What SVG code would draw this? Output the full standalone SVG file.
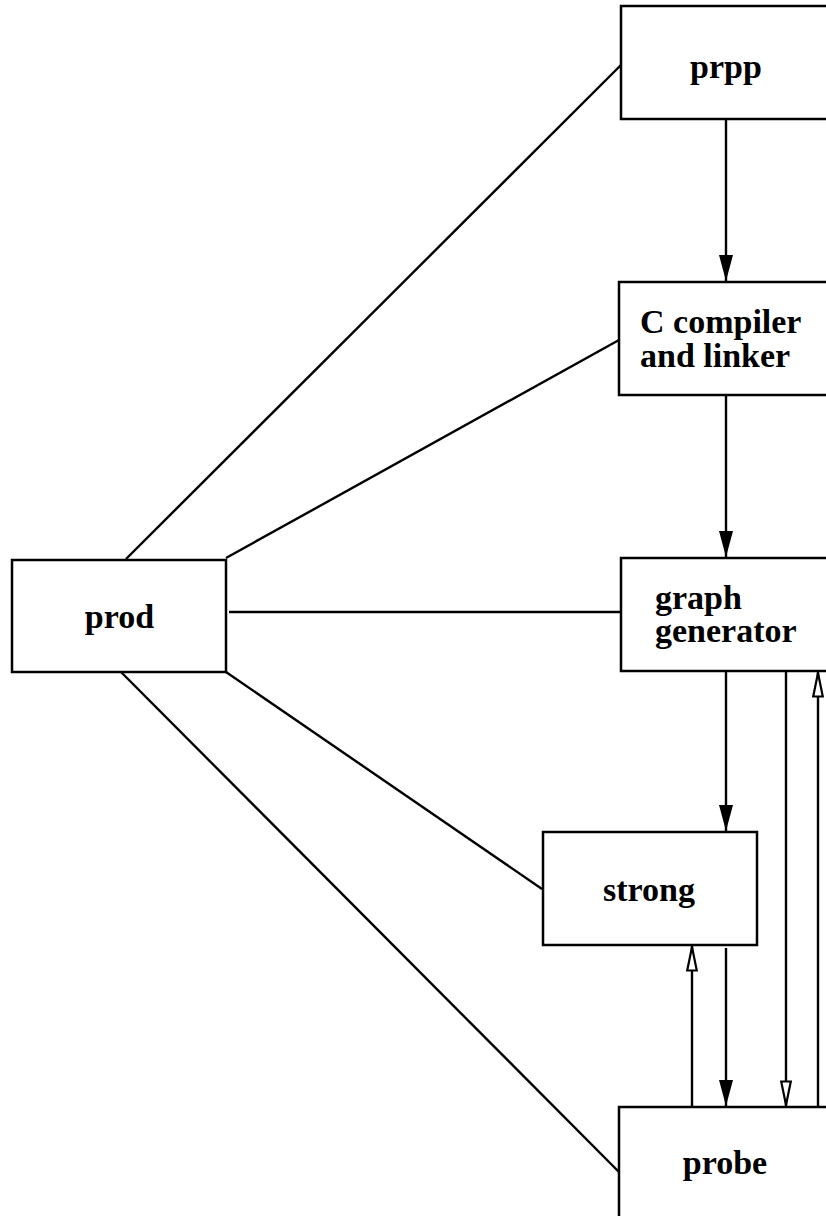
<svg xmlns="http://www.w3.org/2000/svg" width="826" height="1216" viewBox="0 0 826 1216">
<style>
.box{fill:#fff;stroke:#000;stroke-width:2.5}
.lbl{font-family:"Liberation Serif","Times New Roman",serif;font-weight:bold;font-size:34px;fill:#000}
.c{text-anchor:middle}
.ln{stroke:#000;stroke-width:2.4;fill:none}
</style>
<defs>
<marker id="solid" viewBox="0 0 26 14" refX="26" refY="7" markerWidth="26" markerHeight="14" orient="auto" markerUnits="userSpaceOnUse">
<path d="M0,0 L26,7 L0,14 z" fill="#000"/>
</marker>
<marker id="hollow" viewBox="0 0 27 12" refX="26" refY="6" markerWidth="27" markerHeight="12" orient="auto" markerUnits="userSpaceOnUse">
<path d="M1.5,1.2 L25,6 L1.5,10.8 z" fill="#fff" stroke="#000" stroke-width="2.2"/>
</marker>
</defs>
<rect width="826" height="1216" fill="#fff"/>
<g id="connectors">
<line class="ln" x1="126" y1="559" x2="621" y2="65"/>
<line class="ln" x1="226" y1="558" x2="619" y2="340"/>
<line class="ln" x1="229" y1="612" x2="621" y2="612"/>
<line class="ln" x1="226" y1="672" x2="542" y2="889"/>
<line class="ln" x1="121" y1="672" x2="619" y2="1172"/>
<line class="ln" x1="726" y1="119" x2="726" y2="281" marker-end="url(#solid)"/>
<line class="ln" x1="726" y1="395" x2="726" y2="557" marker-end="url(#solid)"/>
<line class="ln" x1="726" y1="671" x2="726" y2="831" marker-end="url(#solid)"/>
<line class="ln" x1="726" y1="948" x2="726" y2="1106" marker-end="url(#solid)"/>
<line class="ln" x1="692" y1="1107" x2="692" y2="946" marker-end="url(#hollow)"/>
<line class="ln" x1="786" y1="671" x2="786" y2="1106" marker-end="url(#hollow)"/>
<line class="ln" x1="818" y1="1107" x2="818" y2="672" marker-end="url(#hollow)"/>
</g>
<g id="prpp">
<rect class="box" x="621" y="6" width="211" height="113"/>
<text class="lbl c" x="726" y="78">prpp</text>
</g>
<g id="compiler">
<rect class="box" x="619" y="282" width="214" height="113"/>
<text class="lbl" x="640" y="333">C compiler</text>
<text class="lbl" x="640" y="367">and linker</text>
</g>
<g id="graphgen">
<rect class="box" x="621" y="558" width="211" height="113"/>
<text class="lbl" x="655" y="609">graph</text>
<text class="lbl" x="655" y="642">generator</text>
</g>
<g id="prod">
<rect class="box" x="12" y="560" width="214" height="112"/>
<text class="lbl c" x="119.5" y="628">prod</text>
</g>
<g id="strong">
<rect class="box" x="543" y="832" width="214" height="113"/>
<text class="lbl c" x="649" y="901">strong</text>
</g>
<g id="probe">
<rect class="box" x="619" y="1107" width="214" height="113"/>
<text class="lbl c" x="725" y="1174">probe</text>
</g>
</svg>
